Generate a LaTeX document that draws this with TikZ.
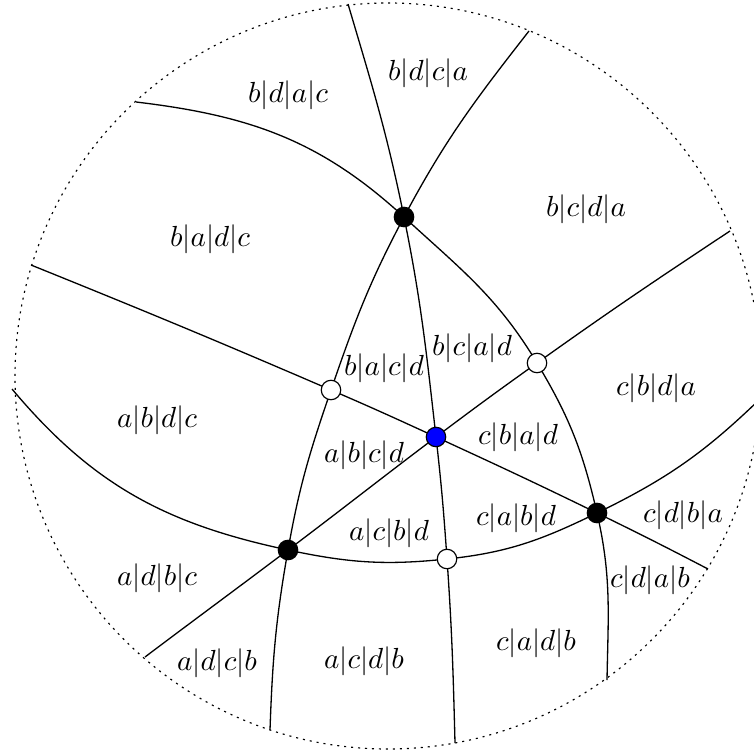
\documentclass[tikz,border=0pt]{standalone}
\pgfdeclarelayer{bg}
\pgfsetlayers{bg,main}
\begin{document}
\begin{tikzpicture}[x=0.344pt,y=-0.344pt,
  pline/.style={line width=0.45pt},
  rim/.style={line width=0.4pt, dash pattern=on 0.7pt off 1.7pt},
  dotbase/.style={circle, draw=black, line width=0.4pt, inner sep=0pt, minimum size=6.7pt},
  bdot/.style={dotbase, fill=black},
  wdot/.style={dotbase, fill=white},
  udot/.style={dotbase, fill=blue},
  lab/.style={inner sep=0pt}]
\useasboundingbox (0,0) rectangle (754,754);
% vertices
\node[bdot] (T) at (404,217) {};
\node[bdot] (L) at (288,550) {};
\node[bdot] (R) at (597,513) {};
\node[udot] (U) at (436,437) {};
\node[wdot] (W1) at (537,363) {};
\node[wdot] (W2) at (331,390) {};
\node[wdot] (W3) at (447,559) {};
% free ends on the circle
\coordinate (A0) at (136,102);  \coordinate (A1) at (607,680);
\coordinate (B0) at (12,389);   \coordinate (B1) at (760,399);
\coordinate (C0) at (31,265);   \coordinate (C1) at (708,569);
\coordinate (D0) at (145,657);  \coordinate (D1) at (730,231);
\coordinate (E0) at (348,4);    \coordinate (E1) at (455,743);
\coordinate (F0) at (529,31);   \coordinate (F1) at (270,730);
\begin{pgfonlayer}{bg}
\draw[rim] (388,376) circle[radius=373];
% curve A
\draw[pline] (A0) to[out=-6.8,in=137.4] (T.center) to[out=-42.6,in=121] (W1.center)
  to[out=-59,in=103] (R.center) to[out=-77,in=89] (A1);
% curve B
\draw[pline] (B0) to[out=-50,in=168] (L.center) to[out=-12,in=186] (W3.center)
  to[out=6,in=206] (R.center) to[out=26,in=224] (B1);
% curve C
\draw[pline] (C0) to[out=-22,in=156.7] (W2.center) to[out=-23.3,in=155.3] (U.center)
  to[out=-24.7,in=154] (R.center) to[out=-26,in=152.5] (C1);
% curve D
\draw[pline] (D0) to[out=37,in=-143] (L.center) to[out=37,in=-143] (U.center)
  to[out=37,in=-144.5] (W1.center) to[out=35.5,in=-146.5] (D1);
% curve E
\draw[pline] (E0) to[out=-73.5,in=101.5] (T.center) to[out=-78.5,in=96.5] (U.center)
  to[out=-83.5,in=94] (W3.center) to[out=-86,in=91.5] (E1);
% curve F
\draw[pline] (F0) to[out=-128,in=62] (T.center) to[out=-118,in=71] (W2.center)
  to[out=-109,in=80] (L.center) to[out=-100,in=88] (F1);
\end{pgfonlayer}
% region labels
\node[lab] (r1) at (288,95) {$b|d|a|c$};
\node[lab] (r2) at (428,73) {$b|d|c|a$};
\node[lab] (r3) at (586,209) {$b|c|d|a$};
\node[lab] (r4) at (210,239) {$b|a|d|c$};
\node[lab] (r5) at (384,368) {$b|a|c|d$};
\node[lab] (r6) at (472,348) {$b|c|a|d$};
\node[lab] (r7) at (656,388) {$c|b|d|a$};
\node[lab] (r8) at (157,420) {$a|b|d|c$};
\node[lab] (r9) at (364,455) {$a|b|c|d$};
\node[lab] (r10) at (518,437) {$c|b|a|d$};
\node[lab] (r11) at (389,533) {$a|c|b|d$};
\node[lab] (r12) at (516,518) {$c|a|b|d$};
\node[lab] (r13) at (683,515) {$c|d|b|a$};
\node[lab] (r14) at (157,578) {$a|d|b|c$};
\node[lab] (r15) at (650,580) {$c|d|a|b$};
\node[lab] (r16) at (217,663) {$a|d|c|b$};
\node[lab] (r17) at (364,661) {$a|c|d|b$};
\node[lab] (r18) at (536,643) {$c|a|d|b$};
\end{tikzpicture}
\end{document}
